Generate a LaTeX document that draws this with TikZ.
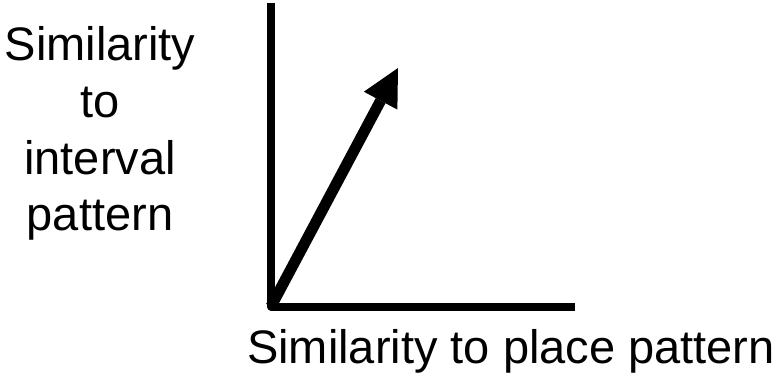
\documentclass[tikz,border=0pt]{standalone}
\usepackage{fontspec}
\setmainfont{Liberation Sans}
\usetikzlibrary{arrows.meta}
\tikzset{
  axis/.style={line width=8pt, line join=round, draw=black},
  vec/.style={line width=11pt, draw=black, -{Triangle[length=37pt,width=38pt,line width=0pt]}},
  lbl/.style={inner sep=0pt, font=\fontsize{47}{57}\selectfont, align=center}
}
\begin{document}
\begin{tikzpicture}[x=1pt,y=-1pt]
\useasboundingbox (0,0) rectangle (780,377);
\coordinate (top) at (271,3);
\coordinate (o) at (271,306.5);
\coordinate (right) at (575,306.5);
\coordinate (tip) at (398,68);
\draw[axis] (top) -- (o) -- (right);
\draw[vec] (o) -- (tip);
\node[lbl, anchor=base] (ylab) at (100,231) {Similarity\\to\\interval\\pattern};
\node[lbl, anchor=base] (xlab) at (511,363) {Similarity to place pattern};
\end{tikzpicture}
\end{document}
